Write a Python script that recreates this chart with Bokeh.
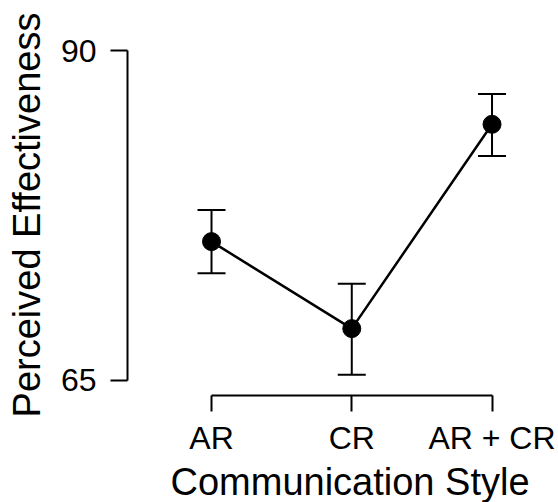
from bokeh.plotting import figure
from bokeh.models import Range1d, FixedTicker, Whisker, ColumnDataSource, TeeHead, Title
from bokeh.embed import file_html
from bokeh.resources import INLINE

# Data
styles = ["AR", "CR", "AR + CR"]
means = [75.5, 68.9, 84.4]
lower = [73.1, 65.4, 82.0]
upper = [77.9, 72.3, 86.7]
y_ticks = [65, 90]

xs = list(range(1, len(styles) + 1))
src = ColumnDataSource(dict(x=xs, m=means, lo=lower, up=upper))

FONT = "Liberation Sans"

p = figure(width=558, height=502, output_backend="svg", toolbar_location=None,
           x_range=Range1d(0.401, 3.474), y_range=Range1d(63.824, 91.214),
           min_border_left=127, min_border_right=0, min_border_top=34,
           min_border_bottom=107)
p.outline_line_color = None
p.xgrid.visible = False
p.ygrid.visible = False
p.background_fill_color = "white"
p.border_fill_color = "white"

ew = Whisker(source=src, base="x", lower="lo", upper="up", line_color="black", line_width=2,
             upper_head=TeeHead(size=28, line_color="black", line_width=2),
             lower_head=TeeHead(size=28, line_color="black", line_width=2))
p.add_layout(ew)
p.line("x", "m", source=src, line_color="black", line_width=2.5)
p.scatter("x", "m", source=src, size=18, color="black")

xa = p.xaxis[0]
xa.ticker = FixedTicker(ticks=xs)
xa.major_label_overrides = {x: s for x, s in zip(xs, styles)}
xa.bounds = (xs[0], xs[-1])
xa.minor_tick_line_color = None
xa.major_tick_in = 0
xa.major_tick_out = 16
xa.axis_line_width = 2
xa.major_tick_line_width = 2
xa.major_label_standoff = 8
xa.major_label_text_font = FONT
xa.major_label_text_font_size = "32px"
xa.major_label_text_color = "black"

# x-axis title, placed below the axis
xtitle = Title(text="Communication Style", align="left", offset=43, standoff=0,
               text_font=FONT, text_font_size="38px", text_font_style="normal",
               text_color="black")
p.add_layout(xtitle, "below")

ya = p.yaxis[0]
ya.ticker = FixedTicker(ticks=y_ticks)
ya.bounds = (y_ticks[0], y_ticks[-1])
ya.minor_tick_line_color = None
ya.major_tick_in = 0
ya.major_tick_out = 17
ya.axis_line_width = 2
ya.major_tick_line_width = 2
ya.major_label_standoff = 14
ya.major_label_orientation = "horizontal"
ya.major_label_text_font = FONT
ya.major_label_text_font_size = "32px"
ya.major_label_text_color = "black"
ya.axis_label = "Perceived Effectiveness"
ya.axis_label_text_font = FONT
ya.axis_label_text_font_size = "38px"
ya.axis_label_text_font_style = "normal"
ya.axis_label_text_color = "black"
ya.axis_label_standoff = 10

open("out.html", "w").write(file_html(p, INLINE))
